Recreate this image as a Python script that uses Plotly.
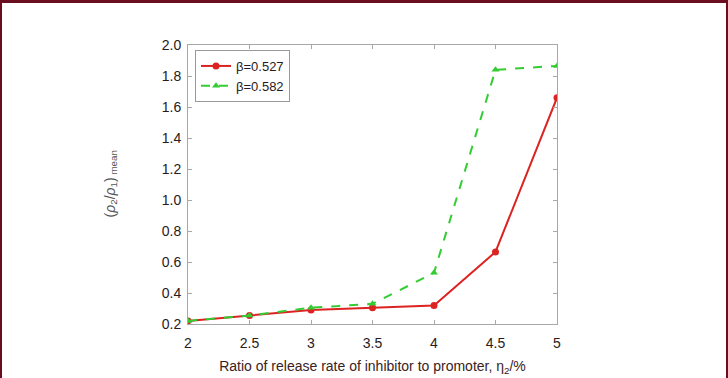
import plotly.graph_objects as go

x_vals = [2, 2.5, 3, 3.5, 4, 4.5, 5]
beta_0527 = [0.22, 0.255, 0.29, 0.305, 0.32, 0.665, 1.66]
beta_0582 = [0.22, 0.255, 0.305, 0.33, 0.53, 1.84, 1.865]
x_ticks = [2, 2.5, 3, 3.5, 4, 4.5, 5]
x_tick_text = ["2", "2.5", "3", "3.5", "4", "4.5", "5"]
y_ticks = [0.2, 0.4, 0.6, 0.8, 1.0, 1.2, 1.4, 1.6, 1.8, 2.0]
y_tick_text = ["0.2", "0.4", "0.6", "0.8", "1.0", "1.2", "1.4", "1.6", "1.8", "2.0"]

W, H = 728, 378
L, R, T, B = 188, 557, 45, 324
pw, ph = R - L, B - T

def px(x):
    return (x - L) / pw

def py(y):
    return (B - y) / ph

FONT = "Liberation Sans, Arial, sans-serif"
TXT = "#2a1a1a"
AX = "#a8a8a8"
BORDER = "#6a0d1e"

fig = go.Figure()
fig.add_trace(go.Scatter(
    x=x_vals, y=beta_0527, name="β=0.527", mode="lines+markers",
    line=dict(color="#dd2222", width=2),
    marker=dict(symbol="circle", size=7, color="#dd2222"),
))
fig.add_trace(go.Scatter(
    x=x_vals, y=beta_0582, name="β=0.582", mode="lines+markers",
    line=dict(color="#33cc33", width=2, dash="dash"),
    marker=dict(symbol="triangle-up", size=7, color="#33cc33"),
))

shapes = [
    dict(type="rect", xref="paper", yref="paper", x0=px(0), x1=px(W), y0=py(0), y1=py(3),
         fillcolor=BORDER, line=dict(width=0), layer="above"),
    dict(type="rect", xref="paper", yref="paper", x0=px(0), x1=px(2), y0=py(0), y1=py(H),
         fillcolor=BORDER, line=dict(width=0), layer="above"),
    dict(type="rect", xref="paper", yref="paper", x0=px(726), x1=px(W), y0=py(0), y1=py(H),
         fillcolor=BORDER, line=dict(width=0), layer="above"),
]

fig.update_layout(
    width=W, height=H,
    margin=dict(l=L, r=W - R, t=T, b=H - B, pad=0),
    paper_bgcolor="white", plot_bgcolor="white",
    font=dict(family=FONT, size=14, color=TXT),
    showlegend=True,
    legend=dict(
        x=px(195), y=py(50), xanchor="left", yanchor="top",
        bgcolor="white", bordercolor="#999999", borderwidth=1,
        font=dict(family=FONT, size=13, color=TXT),
        tracegroupgap=0, itemwidth=30,
    ),
    xaxis=dict(
        range=[2, 5], tickvals=x_ticks, ticktext=x_tick_text,
        showgrid=False, zeroline=False, automargin=False,
        showline=True, linecolor=AX, linewidth=1, mirror="ticks",
        ticks="inside", ticklen=4, tickcolor=AX, ticklabelstandoff=6,
        tickfont=dict(family=FONT, size=14, color=TXT),
        title=dict(text="Ratio of release rate of inhibitor to promoter, η<sub>2</sub>/%",
                   font=dict(family=FONT, size=14, color="#3a2222"), standoff=11),
    ),
    yaxis=dict(
        range=[0.2, 2.0], tickvals=y_ticks, ticktext=y_tick_text,
        showgrid=False, zeroline=False, automargin=False,
        showline=True, linecolor=AX, linewidth=1, mirror="ticks",
        ticks="inside", ticklen=4, tickcolor=AX, ticklabelstandoff=3,
        tickfont=dict(family=FONT, size=14, color=TXT),
    ),
    shapes=shapes,
    annotations=[dict(
        text="(<i>ρ</i><sub>2</sub>/<i>ρ</i><sub>1</sub>)<sub> mean</sub>",
        xref="paper", yref="paper", x=px(110), y=0.5,
        xanchor="center", yanchor="middle", textangle=-90, showarrow=False,
        font=dict(family=FONT, size=14, color="#555555"),
    )],
)

fig.write_html("out.html", config={"displayModeBar": False},
               post_script="document.body.style.margin='0';")
